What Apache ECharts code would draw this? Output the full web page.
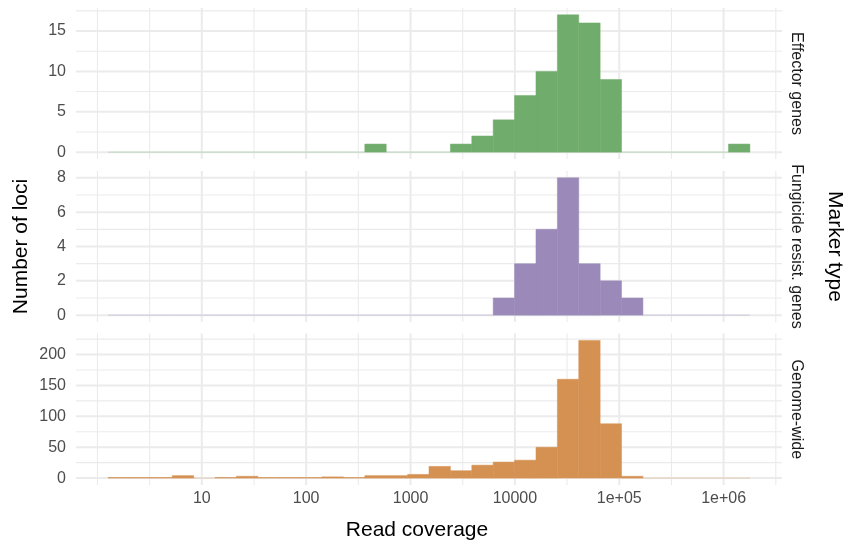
<!DOCTYPE html>
<html>
<head>
<meta charset="utf-8">
<script src="https://cdn.jsdelivr.net/npm/echarts@6/dist/echarts.min.js"></script>
<style>
  html, body { margin: 0; padding: 0; background: #ffffff; }
  #chart { width: 846px; height: 548px; }
</style>
</head>
<body>
<div id="chart"></div>
<script>
// ---- Data (histogram bins on log10(read coverage), 30 bins shared across facets) ----
const binEdgesLog10 = [0.102, 0.307, 0.512, 0.717, 0.922, 1.127, 1.332, 1.537, 1.742, 1.947,
  2.152, 2.357, 2.562, 2.767, 2.972, 3.177, 3.382, 3.587, 3.792, 3.997,
  4.202, 4.407, 4.612, 4.817, 5.022, 5.227, 5.432, 5.637, 5.842, 6.047, 6.252];

const effectorCounts  = [0,0,0,0,0,0,0,0,0,0, 0,0,1,0,0,0,1,2,4,7, 10,17,16,9,0,0,0,0,0,1];
const fungicideCounts = [0,0,0,0,0,0,0,0,0,0, 0,0,0,0,0,0,0,0,1,3, 5,8,3,2,1,0,0,0,0,0];
const genomeCounts    = [1,1,1,4,0,1,3,1,1,1, 2,1,4,4,6,19,12,21,26,29, 50,160,223,88,3,0,0,0,0,0];

const facetNames = ['Effector genes', 'Fungicide resist. genes', 'Genome-wide'];
const facetColors = ['#70AC6B', '#9B8AB9', '#D49152'];

const xTickValues = [10, 100, 1000, 10000, 100000, 1000000];
const xTickLabels = ['10', '100', '1000', '10000', '1e+05', '1e+06'];
const xMinorLog10 = [0, 0.5, 1.5, 2.5, 3.5, 4.5, 5.5, 6.5];

const yTicks = [[0, 5, 10, 15], [0, 2, 4, 6, 8], [0, 50, 100, 150, 200]];
const yMinor = [[2.5, 7.5, 12.5, 17.5], [1, 3, 5, 7], [25, 75, 125, 175, 225]];

const xLabel = 'Read coverage';
const yLabel = 'Number of loci';
const facetTitle = 'Marker type';

// ---- Layout ----
const FONT = "'Liberation Sans', Arial, Helvetica, sans-serif";
const panelLeft = 76, panelWidth = 706;
const panelTops = [8, 171, 333.5];
const panelHeights = [151, 151, 151.5];
const allCounts = [effectorCounts, fungicideCounts, genomeCounts];

const xMajorLog10 = xTickValues.map(v => Math.log10(v));
const binW = binEdgesLog10[binEdgesLog10.length - 1] - binEdgesLog10[0];
const xMin = binEdgesLog10[0] - 0.05 * binW;
const xMax = binEdgesLog10[binEdgesLog10.length - 1] + 0.05 * binW;

const grids = [], xAxes = [], yAxes = [], series = [];

allCounts.forEach((counts, i) => {
  const maxC = Math.max.apply(null, counts);
  grids.push({ left: panelLeft, width: panelWidth, top: panelTops[i], height: panelHeights[i], containLabel: false });
  xAxes.push({
    type: 'value', gridIndex: i, min: xMin, max: xMax,
    axisLine: { show: false }, axisTick: { show: false }, splitLine: { show: false },
    axisLabel: {
      show: i === 2,
      customValues: xMajorLog10,
      margin: 6,
      color: '#4D4D4D', fontSize: 16, fontFamily: FONT,
      formatter: function (v) {
        let best = 0, bd = 1e9;
        xMajorLog10.forEach((m, k) => { const d = Math.abs(m - v); if (d < bd) { bd = d; best = k; } });
        return xTickLabels[best];
      }
    }
  });
  yAxes.push({
    type: 'value', gridIndex: i, min: -0.05 * maxC, max: 1.05 * maxC,
    axisLine: { show: false }, axisTick: { show: false }, splitLine: { show: false },
    axisLabel: {
      customValues: yTicks[i],
      margin: 10,
      color: '#4D4D4D', fontSize: 16, fontFamily: FONT,
      formatter: v => String(Math.round(v))
    }
  });

  // gridlines: [orientation(0=vertical,1=horizontal), value, major]
  const gridData = [];
  xMinorLog10.forEach(v => gridData.push([0, v, 0]));
  xMajorLog10.forEach(v => gridData.push([0, v, 1]));
  yMinor[i].forEach(v => gridData.push([1, v, 0]));
  yTicks[i].forEach(v => gridData.push([1, v, 1]));

  series.push({
    type: 'custom', xAxisIndex: i, yAxisIndex: i, z: 1, silent: true,
    data: gridData,
    encode: { x: -1, y: -1 },
    renderItem: function (params, api) {
      const cs = params.coordSys;
      const o = api.value(0), v = api.value(1), major = api.value(2);
      const style = { stroke: '#EBEBEB', lineWidth: major ? 2 : 1.1 };
      if (o === 0) {
        const x = api.coord([v, 0])[0];
        return { type: 'line', shape: { x1: x, y1: cs.y, x2: x, y2: cs.y + cs.height }, style };
      } else {
        const y = api.coord([xMin, v])[1];
        return { type: 'line', shape: { x1: cs.x, y1: y, x2: cs.x + cs.width, y2: y }, style };
      }
    }
  });

  const histData = counts.map((c, k) => [binEdgesLog10[k], binEdgesLog10[k + 1], c]);
  const color = facetColors[i];
  series.push({
    type: 'custom', xAxisIndex: i, yAxisIndex: i, z: 2, silent: true,
    data: histData,
    encode: { x: [0, 1], y: 2 },
    renderItem: function (params, api) {
      const x0 = api.value(0), x1 = api.value(1), c = api.value(2);
      const p0 = api.coord([x0, c]);
      const p1 = api.coord([x1, 0]);
      if (c === 0) {
        return { type: 'rect', shape: { x: p0[0], y: p1[1] - 0.6, width: p1[0] - p0[0], height: 1.2 },
          style: { fill: color, opacity: 0.3 } };
      }
      return { type: 'rect', shape: { x: p0[0], y: p0[1], width: p1[0] - p0[0], height: p1[1] - p0[1] },
        style: { fill: color, stroke: color, lineWidth: 0.5 } };
    }
  });
});

const graphics = [];
facetNames.forEach((name, i) => {
  graphics.push({
    type: 'text', x: 796, y: panelTops[i] + panelHeights[i] / 2, rotation: -Math.PI / 2,
    style: { text: name, x: 0, y: 0, align: 'center', verticalAlign: 'middle', textAlign: 'center', textVerticalAlign: 'middle',
      fontSize: 16, fontFamily: FONT, fill: '#1A1A1A' }
  });
});
const panelsMid = (panelTops[0] + panelTops[2] + panelHeights[2]) / 2;
graphics.push({
  type: 'text', x: 835, y: panelsMid, rotation: -Math.PI / 2,
  style: { text: facetTitle, x: 0, y: 0, align: 'center', verticalAlign: 'middle', textAlign: 'center', textVerticalAlign: 'middle',
    fontSize: 21, fontFamily: FONT, fill: '#000000' }
});
graphics.push({
  type: 'text', x: 21, y: panelsMid, rotation: Math.PI / 2,
  style: { text: yLabel, x: 0, y: 0, align: 'center', verticalAlign: 'middle', textAlign: 'center', textVerticalAlign: 'middle',
    fontSize: 21, fontFamily: FONT, fill: '#000000' }
});
graphics.push({
  type: 'text', x: 417, y: 530,
  style: { text: xLabel, x: 0, y: 0, align: 'center', verticalAlign: 'middle', textAlign: 'center', textVerticalAlign: 'middle',
    fontSize: 21, fontFamily: FONT, fill: '#000000' }
});

const chart = echarts.init(document.getElementById('chart'), null, { renderer: 'canvas' });
chart.setOption({
  animation: false,
  backgroundColor: '#ffffff',
  grid: grids,
  xAxis: xAxes,
  yAxis: yAxes,
  series: series,
  graphic: graphics
});
</script>
</body>
</html>
